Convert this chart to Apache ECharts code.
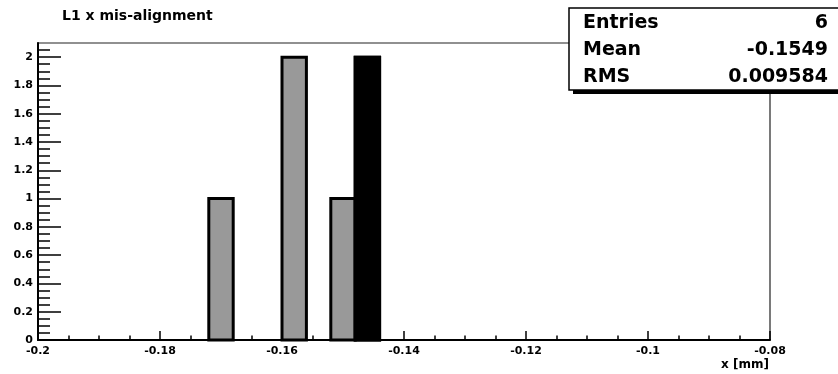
<!DOCTYPE html>
<html>
<head>
<meta charset="utf-8">
<script src="https://cdn.jsdelivr.net/npm/echarts@6/dist/echarts.min.js"></script>
<style>
  html, body { margin: 0; padding: 0; background: #fff; }
  #chart { width: 838px; height: 374px; }
</style>
</head>
<body>
<div id="chart"></div>
<script>
// Histogram of L1 x mis-alignment, bin width 0.004 mm
const binWidth = 0.004;
const grayBinLow = [-0.172, -0.160, -0.152, -0.148];
const grayCounts = [1, 2, 1, 2];
const blackBinLow = [-0.148];
const blackCounts = [2];

// Statistics box
const statNames = ['Entries', 'Mean', 'RMS'];
const statValues = ['6', '-0.1549', '0.009584'];

// Axis ticks
const xMin = -0.2, xMax = -0.08, xStep = 0.02;
const yMin = 0, yMax = 2.1;
const yMajorTicks = [0, 0.2, 0.4, 0.6, 0.8, 1, 1.2, 1.4, 1.6, 1.8, 2];
const yMinorTicks = [0.05, 0.1, 0.15, 0.25, 0.3, 0.35, 0.45, 0.5, 0.55, 0.65, 0.7, 0.75,
  0.85, 0.9, 0.95, 1.05, 1.1, 1.15, 1.25, 1.3, 1.35, 1.45, 1.5, 1.55, 1.65, 1.7, 1.75,
  1.85, 1.9, 1.95, 2.05];

const FONT = 'DejaVu Sans';

const chart = echarts.init(document.getElementById('chart'), null, { renderer: 'canvas' });

function binItems(lows, counts) {
  return lows.map((lo, i) => [lo, lo + binWidth, counts[i]]);
}

function barRenderer(fill) {
  return function (params, api) {
    const p0 = api.coord([api.value(0), api.value(2)]);
    const p1 = api.coord([api.value(1), 0]);
    return {
      type: 'rect',
      shape: { x: p0[0], y: p0[1], width: p1[0] - p0[0], height: p1[1] - p0[1] },
      style: { fill: fill, stroke: '#000', lineWidth: 3 }
    };
  };
}

const stats = [];
stats.push({ type: 'rect', z: 100, shape: { x: 573, y: 12, width: 270, height: 82 }, style: { fill: '#000' } });
stats.push({ type: 'rect', z: 101, shape: { x: 569, y: 8, width: 272, height: 82 }, style: { fill: '#fff', stroke: '#000', lineWidth: 1.5 } });
statNames.forEach((name, i) => {
  stats.push({ type: 'text', z: 102, x: 583, y: 23.5 + 27 * i,
    style: { text: name, font: 'bold 19px "' + FONT + '"', fill: '#000', textAlign: 'left', textVerticalAlign: 'middle' } });
  stats.push({ type: 'text', z: 102, x: 828, y: 23.5 + 27 * i,
    style: { text: statValues[i], font: 'bold 19px "' + FONT + '"', fill: '#000', textAlign: 'right', textVerticalAlign: 'middle' } });
});
stats.push({ type: 'text', z: 102, x: 769, y: 365,
  style: { text: 'x [mm]', font: 'bold 12px "' + FONT + '"', fill: '#000', textAlign: 'right', textVerticalAlign: 'middle' } });

const labelStyle = { fontFamily: FONT, fontWeight: 'bold', fontSize: 11, color: '#000' };

chart.setOption({
  animation: false,
  backgroundColor: '#fff',
  title: {
    text: 'L1 x mis-alignment',
    left: 62, top: 9, padding: 0,
    textStyle: { fontFamily: FONT, fontWeight: 'bold', fontSize: 14, color: '#000' }
  },
  grid: {
    left: 38, right: 68, top: 43, bottom: 34,
    show: true, borderColor: '#222', borderWidth: 1.2, backgroundColor: '#fff'
  },
  xAxis: {
    type: 'value', min: xMin, max: xMax, interval: xStep,
    axisLine: { show: true, onZero: false, lineStyle: { color: '#000', width: 2 } },
    axisTick: { show: true, inside: true, length: 9, lineStyle: { color: '#000', width: 1.5 } },
    minorTick: { show: true, splitNumber: 4, length: 4.5, lineStyle: { color: '#000', width: 1.5 } },
    splitLine: { show: false },
    axisLabel: Object.assign({ margin: 6 }, labelStyle)
  },
  yAxis: [
    {
      type: 'value', min: yMin, max: yMax,
      axisLine: { show: true, onZero: false, lineStyle: { color: '#000', width: 2 } },
      axisTick: { show: true, inside: true, length: 23, customValues: yMajorTicks, lineStyle: { color: '#000', width: 1.5 } },
      axisLabel: Object.assign({ margin: 5, customValues: yMajorTicks }, labelStyle),
      splitLine: { show: false }
    },
    {
      type: 'value', min: yMin, max: yMax, position: 'left',
      axisLine: { show: false },
      axisTick: { show: true, inside: true, length: 12, customValues: yMinorTicks, lineStyle: { color: '#000', width: 1.5 } },
      axisLabel: { show: false },
      splitLine: { show: false }
    }
  ],
  graphic: stats,
  series: [
    {
      type: 'custom', name: 'all', xAxisIndex: 0, yAxisIndex: 0,
      renderItem: barRenderer('#999999'),
      encode: { x: [0, 1], y: 2 },
      data: binItems(grayBinLow, grayCounts), z: 2
    },
    {
      type: 'custom', name: 'selected', xAxisIndex: 0, yAxisIndex: 0,
      renderItem: barRenderer('#000000'),
      encode: { x: [0, 1], y: 2 },
      data: binItems(blackBinLow, blackCounts), z: 3
    }
  ]
});
</script>
</body>
</html>
